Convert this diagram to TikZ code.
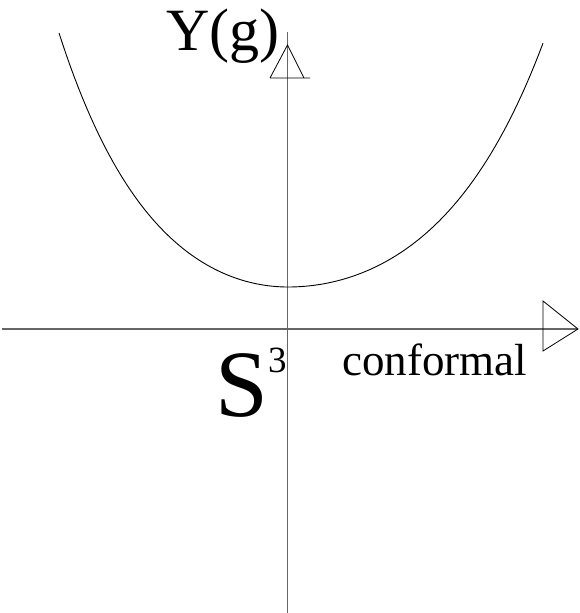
\documentclass[tikz,border=0pt]{standalone}
\usepackage{fontspec}
\setmainfont{Liberation Serif}
\usepackage{tikz}

\begin{document}
\begin{tikzpicture}[
    x=1pt, y=-1pt,
    axis/.style={draw=black!60, line width=1.1pt},
    curve/.style={draw=black, line width=0.9pt},
    tip/.style={draw=black, line width=0.8pt},
    lbl/.style={inner sep=0pt, anchor=base west}
]
    \useasboundingbox (0,0) rectangle (580,613);
    \coordinate (xstart) at (2,329);
    \coordinate (xend) at (578,329);
    \coordinate (ystart) at (287.5,613);
    \coordinate (yend) at (287.5,32);
    \coordinate (ytip) at (287.5,45);

    \draw[axis] (xstart) -- (xend);
    \draw[axis] (ystart) -- (yend);
    % open arrow heads
    \draw[tip] (543,301) -- (xend) -- (543,351) -- cycle;
    \draw[tip] (270,78) -- (ytip) -- (304,78) (270,78) -- (310,78);

    % the curve, a little wider on the right
    \draw[curve] plot[domain=-229:0, samples=60] ({288+\x}, {287-63.7*(cosh(\x/100)-1)})
        -- plot[domain=0:255, samples=60] ({288+\x}, {287-63.7*(cosh(\x/113)-1)});

    \node[lbl, font=\fontsize{60}{60}\selectfont] (ylabel) at (166,50) {Y(g)};
    \node[lbl, font=\fontsize{95}{95}\selectfont] (sphere) at (215,416)
        {S\raisebox{44pt}{\fontsize{37}{37}\selectfont 3}};
    \node[lbl, font=\fontsize{45}{45}\selectfont] (xlabel) at (342,375) {conformal};
\end{tikzpicture}
\end{document}
